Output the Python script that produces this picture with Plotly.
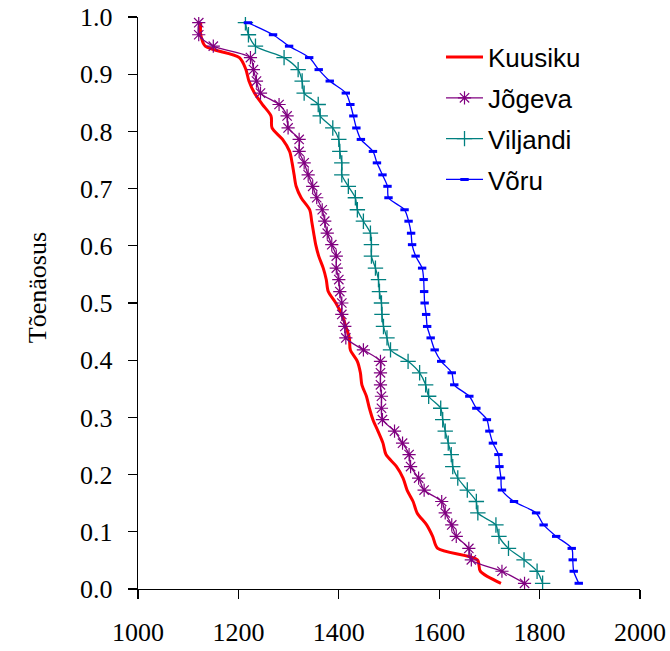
import plotly.graph_objects as go

# Probability (plotting position) for each of the 49 ranked values, top to bottom
probability = [0.990, 0.969, 0.949, 0.929, 0.908, 0.888, 0.867, 0.847, 0.827, 0.806,
               0.786, 0.765, 0.745, 0.724, 0.704, 0.684, 0.663, 0.643, 0.622, 0.602,
               0.582, 0.561, 0.541, 0.520, 0.500, 0.480, 0.459, 0.439, 0.418, 0.398,
               0.378, 0.357, 0.337, 0.316, 0.296, 0.276, 0.255, 0.235, 0.214, 0.194,
               0.173, 0.153, 0.133, 0.112, 0.092, 0.071, 0.051, 0.031, 0.010]

kuusiku = [1125, 1125, 1134, 1202, 1215, 1221, 1232, 1248, 1265, 1267,
           1288, 1302, 1307, 1311, 1315, 1325, 1342, 1346, 1350, 1354,
           1360, 1369, 1375, 1379, 1394, 1406, 1414, 1421, 1423, 1437,
           1443, 1446, 1455, 1461, 1468, 1478, 1488, 1494, 1515, 1528,
           1536, 1548, 1556, 1575, 1587, 1597, 1676, 1682, 1723]

jogeva = [1121, 1121, 1150, 1224, 1230, 1236, 1244, 1281, 1297, 1299,
          1321, 1321, 1331, 1339, 1348, 1356, 1367, 1372, 1377, 1386,
          1395, 1395, 1400, 1402, 1406, 1406, 1412, 1414, 1449, 1483,
          1483, 1483, 1485, 1485, 1487, 1511, 1527, 1540, 1543, 1559,
          1570, 1605, 1612, 1625, 1634, 1659, 1664, 1725, 1770]

viljandi = [1214, 1220, 1234, 1291, 1319, 1327, 1331, 1359, 1363, 1388,
            1400, 1402, 1406, 1406, 1419, 1433, 1437, 1449, 1463, 1465,
            1465, 1473, 1479, 1481, 1485, 1486, 1489, 1496, 1503, 1538,
            1561, 1573, 1579, 1603, 1607, 1612, 1618, 1624, 1627, 1637,
            1656, 1674, 1677, 1713, 1719, 1738, 1769, 1795, 1806]

voru = [1219, 1269, 1301, 1341, 1360, 1382, 1414, 1423, 1429, 1435,
        1444, 1468, 1476, 1487, 1497, 1499, 1531, 1539, 1544, 1546,
        1553, 1566, 1569, 1570, 1571, 1574, 1576, 1583, 1591, 1604,
        1625, 1630, 1660, 1674, 1695, 1700, 1707, 1718, 1720, 1723,
        1725, 1749, 1793, 1808, 1833, 1864, 1866, 1868, 1878]

x_ticks = [1000, 1200, 1400, 1600, 1800, 2000]
y_ticks = [0.0, 0.1, 0.2, 0.3, 0.4, 0.5, 0.6, 0.7, 0.8, 0.9, 1.0]
y_title = "Tõenäosus"

SERIF = "Liberation Serif, Times New Roman, serif"
SANS = "Liberation Sans, Arial, sans-serif"

fig = go.Figure()

fig.add_trace(go.Scatter(
    x=kuusiku, y=probability, name="Kuusiku", mode="lines",
    line=dict(color="#FF0000", width=3, shape="spline", smoothing=0.8),
    legendgroup="a"))

fig.add_trace(go.Scatter(
    x=jogeva, y=probability, name="Jõgeva", mode="lines+markers",
    line=dict(color="#800080", width=1.3, shape="spline", smoothing=0.8),
    marker=dict(symbol="asterisk-open", size=11, color="#800080",
                line=dict(color="#800080", width=1.2)),
    legendgroup="b"))

fig.add_trace(go.Scatter(
    x=viljandi, y=probability, name="Viljandi", mode="lines+markers",
    line=dict(color="#008080", width=1.3, shape="spline", smoothing=0.8),
    marker=dict(symbol="cross-thin-open", size=11, color="#008080",
                line=dict(color="#008080", width=1.3)),
    legendgroup="c"))

fig.add_trace(go.Scatter(
    x=voru, y=probability, name="Võru", mode="lines+markers",
    line=dict(color="#0000FF", width=1.3, shape="spline", smoothing=0.8),
    marker=dict(symbol="line-ew-open", size=6, color="#0000FF",
                line=dict(color="#0000FF", width=3)),
    legendgroup="d"))

fig.update_layout(
    width=670, height=651,
    margin=dict(l=138, r=30, t=17, b=62, pad=0, autoexpand=False),
    paper_bgcolor="white", plot_bgcolor="white",
    showlegend=True,
    legend=dict(x=0.6036, y=0.971, xanchor="left", yanchor="top",
                font=dict(family=SANS, size=26, color="black"),
                bgcolor="rgba(0,0,0,0)", borderwidth=0,
                itemwidth=37, tracegroupgap=4),
    font=dict(family=SERIF, color="black"),
    annotations=[dict(text=y_title, textangle=-90, showarrow=False,
                      xref="paper", yref="paper", x=-0.200, y=0.527,
                      xanchor="center", yanchor="middle",
                      font=dict(family=SERIF, size=26, color="black"))],
)

fig.update_xaxes(
    range=[1000, 2000], tickmode="array", tickvals=x_ticks,
    ticktext=[str(v) for v in x_ticks],
    showline=True, linecolor="black", linewidth=1.2,
    ticks="outside", ticklen=9, tickwidth=1.2, tickcolor="black",
    showgrid=False, zeroline=False, automargin=False,
    tickfont=dict(family=SERIF, size=26, color="black"),
    ticklabelstandoff=11,
)

fig.update_yaxes(
    range=[0, 1], tickmode="array", tickvals=y_ticks,
    ticktext=[f"{v:.1f}" for v in y_ticks],
    showline=True, linecolor="black", linewidth=1.2,
    ticks="outside", ticklen=9, tickwidth=1.2, tickcolor="black",
    showgrid=False, zeroline=False, automargin=False,
    tickfont=dict(family=SERIF, size=26, color="black"),
    ticklabelstandoff=10,
)

fig.write_html("out.html",
               config={"displayModeBar": False, "staticPlot": True},
               post_script="document.body.style.margin='0';document.body.style.padding='0';")
